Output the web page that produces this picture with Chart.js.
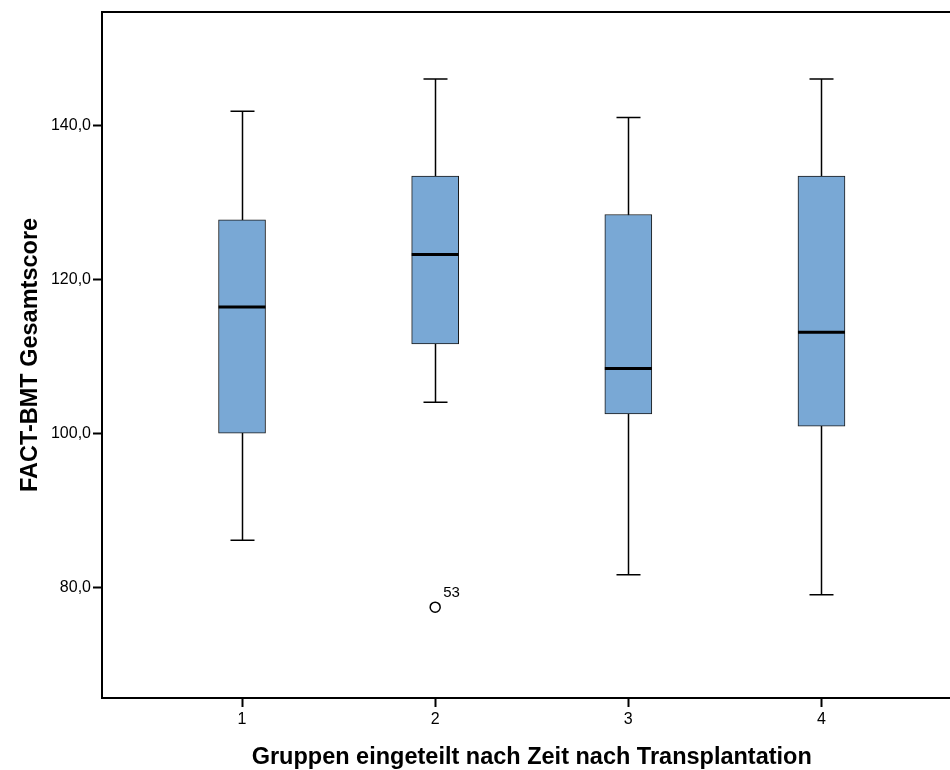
<!DOCTYPE html>
<html>
<head>
<meta charset="utf-8">
<script src="https://cdn.jsdelivr.net/npm/chart.js@4/dist/chart.umd.min.js"></script>
<style>
  html, body { margin: 0; padding: 0; background: #fff; overflow: hidden; }
  #wrap { width: 950px; height: 770px; overflow: hidden; }
</style>
</head>
<body>
<div id="wrap"><canvas id="box-chart" width="968" height="770"></canvas></div>
<script>
// Gruppen (x-Position) und Boxplot-Kennwerte
let groups = [1, 2, 3, 4];
let whiskerLow = [86.1, 104.0, 81.6, 79.0];
let q1 = [100.0, 111.6, 102.5, 100.9];
let median = [116.4, 123.2, 108.4, 113.1];
let q3 = [127.7, 133.4, 128.4, 133.4];
let whiskerHigh = [141.8, 146.0, 141.0, 146.0];
// Ausreisser
let outlierGroup = [2];
let outlierValue = [77.4];
let outlierLabel = ["53"];
// Achsen
let yTicks = [80, 100, 120, 140];
let yMin = 65.6, yMax = 154.7;
let xMin = 0.275, xMax = 4.725;

const boxData = groups.map((g, i) => ({ x: g, y: [q1[i], q3[i]] }));
const outData = outlierGroup.map((g, i) => ({ x: g, y: outlierValue[i] }));

// zeichnet Whisker, Median, Rahmen oben und Ausreisser-Nummer
const boxExtras = {
  id: 'boxExtras',
  beforeDatasetsDraw(chart) {
    const c = chart.ctx, xs = chart.scales.x, ys = chart.scales.y;
    c.save();
    c.strokeStyle = '#000';
    c.lineWidth = 1.5;
    groups.forEach((g, i) => {
      const px = Math.round(xs.getPixelForValue(g)) + 0.5;
      const lo = ys.getPixelForValue(whiskerLow[i]);
      const hi = ys.getPixelForValue(whiskerHigh[i]);
      c.beginPath();
      c.moveTo(px, lo); c.lineTo(px, hi);
      c.moveTo(px - 12, lo); c.lineTo(px + 12, lo);
      c.moveTo(px - 12, hi); c.lineTo(px + 12, hi);
      c.stroke();
    });
    c.restore();
  },
  afterDatasetsDraw(chart) {
    const c = chart.ctx, xs = chart.scales.x, ys = chart.scales.y;
    const a = chart.chartArea;
    c.save();
    c.strokeStyle = '#000';
    c.lineWidth = 3;
    groups.forEach((g, i) => {
      const px = xs.getPixelForValue(g);
      const py = ys.getPixelForValue(median[i]);
      c.beginPath();
      c.moveTo(px - 23.5, py); c.lineTo(px + 23.5, py);
      c.stroke();
    });
    // oberer Rahmen
    c.lineWidth = 2;
    c.beginPath();
    c.moveTo(a.left - 1, a.top); c.lineTo(chart.width, a.top);
    c.stroke();
    // Fallnummer
    c.fillStyle = '#000';
    c.font = '15px "Liberation Sans", Arial, sans-serif';
    c.textBaseline = 'alphabetic';
    outlierGroup.forEach((g, i) => {
      c.fillText(outlierLabel[i], xs.getPixelForValue(g) + 8, ys.getPixelForValue(outlierValue[i]) - 10);
    });
    c.restore();
  }
};

const ctx = document.getElementById('box-chart');
const myChart = new Chart(ctx, {
  type: 'bar',
  data: {
    datasets: [
      {
        type: 'bar',
        data: boxData,
        backgroundColor: '#79a8d5',
        borderColor: '#1a1a1a',
        borderWidth: 1,
        borderSkipped: false,
        barThickness: 47,
        order: 2
      },
      {
        type: 'scatter',
        data: outData,
        pointStyle: 'circle',
        pointRadius: 5,
        pointBorderWidth: 1.5,
        pointBorderColor: '#000',
        pointBackgroundColor: '#fff',
        order: 1
      }
    ]
  },
  options: {
    responsive: false,
    animation: false,
    layout: { padding: { top: 12, right: 0, left: 0, bottom: 0 } },
    plugins: {
      legend: { display: false },
      tooltip: { enabled: false }
    },
    scales: {
      x: {
        type: 'linear',
        min: xMin,
        max: xMax,
        offset: false,
        afterBuildTicks: s => { s.ticks = groups.map(v => ({ value: v })); },
        afterFit: s => { s.height = 72; s.paddingLeft = 0; s.paddingRight = 0; },
        ticks: {
          color: '#000',
          padding: 3,
          font: { family: '"Liberation Sans Narrow", "Liberation Sans", Arial, sans-serif', size: 16 },
          callback: v => String(v)
        },
        grid: { offset: false, drawOnChartArea: false, drawTicks: true, tickLength: 9, tickColor: '#000', tickWidth: 2 },
        border: { display: true, color: '#000', width: 2 },
        title: {
          display: true,
          text: 'Gruppen eingeteilt nach Zeit nach Transplantation',
          color: '#000',
          font: { family: '"Liberation Sans", Arial, sans-serif', size: 23.5, weight: 'bold' },
          padding: { top: 12, bottom: -2 }
        }
      },
      y: {
        type: 'linear',
        min: yMin,
        max: yMax,
        afterBuildTicks: s => { s.ticks = yTicks.map(v => ({ value: v })); },
        afterFit: s => { s.width = 102; },
        ticks: {
          color: '#000',
          padding: 2,
          font: { family: '"Liberation Sans", Arial, sans-serif', size: 16 },
          callback: v => v.toFixed(1).replace('.', ',')
        },
        grid: { drawOnChartArea: false, drawTicks: true, tickLength: 9, tickColor: '#000', tickWidth: 2 },
        border: { display: true, color: '#000', width: 2 },
        title: {
          display: true,
          text: 'FACT-BMT Gesamtscore',
          color: '#000',
          font: { family: '"Liberation Sans", Arial, sans-serif', size: 23.5, weight: 'bold' },
          padding: { top: 16, bottom: 0 }
        }
      }
    }
  },
  plugins: [boxExtras]
});
</script>
</body>
</html>
